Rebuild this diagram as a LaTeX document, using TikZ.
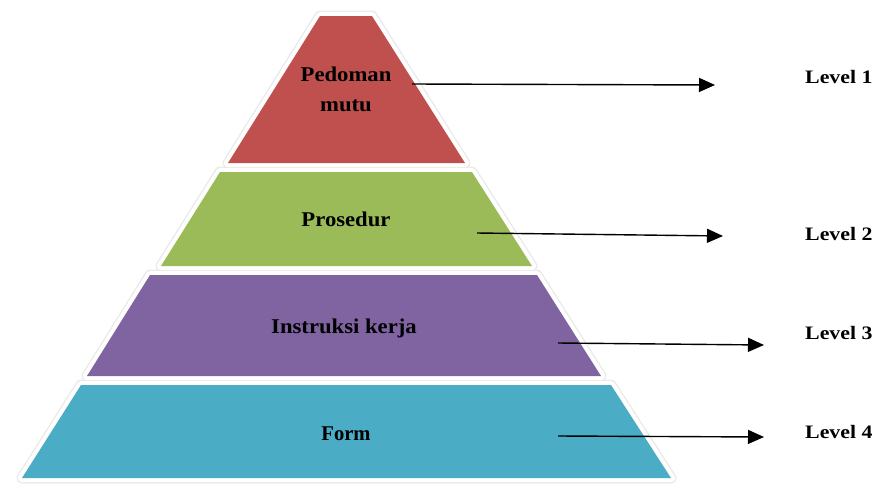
\documentclass[tikz,border=0pt]{standalone}
\usepackage{fontspec}
\usetikzlibrary{arrows.meta}
\newfontfamily\labfont{Liberation Serif}[FakeStretch=1.08]
\newfontfamily\formfont{Liberation Serif}[FakeStretch=0.98]
\newfontfamily\lvlfont{Liberation Serif}[FakeStretch=1.15]
\definecolor{pred}{HTML}{C0504D}
\definecolor{pgreen}{HTML}{9BBB59}
\definecolor{ppurple}{HTML}{8064A2}
\definecolor{pteal}{HTML}{4BACC6}
\tikzset{
  shadowedge/.style={draw=black!8, line width=11pt, line join=round},
  whiteedge/.style={draw=white, line width=8pt, line join=round},
  tierlabel/.style={anchor=base, inner sep=0pt, font=\labfont\bfseries\fontsize{21}{21}\selectfont},
  levellabel/.style={anchor=base west, inner sep=0pt, font=\lvlfont\bfseries\fontsize{19}{19}\selectfont},
  levelarrow/.style={line width=1.4pt, -{Triangle[length=16pt,width=14pt]}}
}
\begin{document}
\begin{tikzpicture}[x=1pt,y=-1pt]
\useasboundingbox (0,0) rectangle (878,485);
% tier outlines
\def\tred{(320,16) -- (372,16) -- (465,163) -- (228,163) -- cycle}
\def\tgreen{(220,172) -- (472,172) -- (532,266) -- (161,266) -- cycle}
\def\tpurple{(150,275) -- (537,275) -- (601,376) -- (87,376) -- cycle}
\def\tteal{(81,385) -- (611,385) -- (671,478) -- (22,478) -- cycle}
\draw[shadowedge] \tred; \draw[shadowedge] \tgreen; \draw[shadowedge] \tpurple; \draw[shadowedge] \tteal;
\draw[whiteedge] \tred; \draw[whiteedge] \tgreen; \draw[whiteedge] \tpurple; \draw[whiteedge] \tteal;
\fill[pred] \tred;
\fill[pgreen] \tgreen;
\fill[ppurple] \tpurple;
\fill[pteal] \tteal;
% tier texts
\node[tierlabel] (t1a) at (346,81.5) {Pedoman};
\node[tierlabel] (t1b) at (346,111.5) {mutu};
\node[tierlabel] (t2) at (346,226) {Prosedur};
\node[tierlabel] (t3) at (344,333) {Instruksi kerja};
\node[tierlabel, font=\formfont\bfseries\fontsize{21}{21}\selectfont] (t4) at (346,440) {Form};
% level texts
\node[levellabel] (l1) at (805,83) {Level 1};
\node[levellabel] (l2) at (805,240) {Level 2};
\node[levellabel] (l3) at (805,339) {Level 3};
\node[levellabel] (l4) at (805,438) {Level 4};
% arrows
\coordinate (s1) at (412,84);  \coordinate (e1) at (715,85);
\coordinate (s2) at (477,233); \coordinate (e2) at (723,236);
\coordinate (s3) at (558,343); \coordinate (e3) at (764,345);
\coordinate (s4) at (558,436); \coordinate (e4) at (764,437);
\draw[levelarrow] (s1) -- (e1);
\draw[levelarrow] (s2) -- (e2);
\draw[levelarrow] (s3) -- (e3);
\draw[levelarrow] (s4) -- (e4);
\end{tikzpicture}
\end{document}
